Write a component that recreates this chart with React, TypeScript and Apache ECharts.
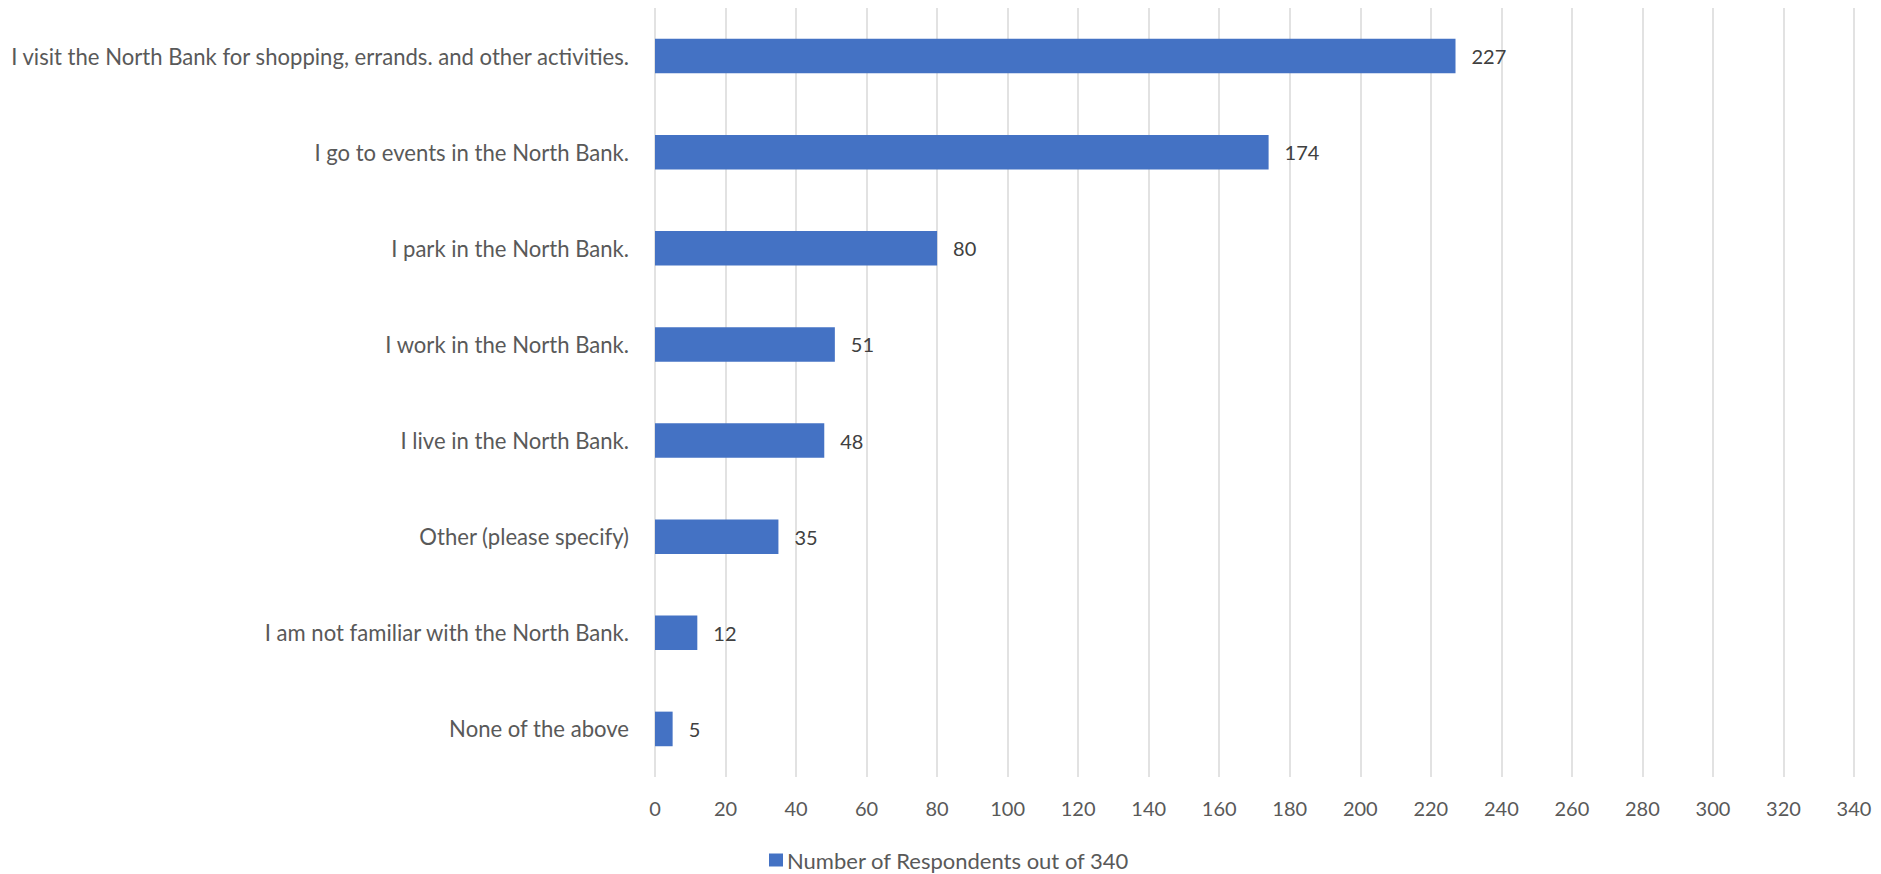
import React, { useEffect, useRef } from "react";
import * as echarts from "echarts";

const categories = [
  "None of the above",
  "I am not familiar with the North Bank.",
  "Other (please specify)",
  "I live in the North Bank.",
  "I work in the North Bank.",
  "I park in the North Bank.",
  "I go to events in the North Bank.",
  "I visit the North Bank for shopping, errands. and other activities.",
];
const values = [5, 12, 35, 48, 51, 80, 174, 227];
const seriesName = "Number of Respondents out of 340";
const xMin = 0;
const xMax = 340;
const xInterval = 20;

const FONT = "Lato";

export default function App() {
  const ref = useRef<HTMLDivElement>(null);
  useEffect(() => {
    if (!ref.current) return;
    const chart = echarts.init(ref.current, undefined, { renderer: "svg" });
    chart.setOption({
      animation: false,
      textStyle: { fontFamily: FONT },
      grid: {
        left: 655,
        right: 27,
        top: 8,
        bottom: 97,
        containLabel: false,
        outerBoundsMode: "none",
      },
      legend: {
        data: [seriesName],
        top: 849,
        left: 769,
        padding: 0,
        itemWidth: 14,
        itemHeight: 13,
        itemGap: 5,
        icon: "rect",
        textStyle: {
          fontFamily: FONT,
          fontSize: 22,
          lineHeight: 22,
          color: "#595959",
          padding: [0, 0, 0, -1],
        },
      },
      xAxis: {
        type: "value",
        min: xMin,
        max: xMax,
        interval: xInterval,
        axisLine: { show: false },
        axisTick: { show: false },
        splitLine: { show: true, lineStyle: { color: "#D9D9D9", width: 1.5 } },
        axisLabel: { color: "#595959", fontSize: 20, margin: 21, fontFamily: FONT },
      },
      yAxis: {
        type: "category",
        data: categories,
        axisLine: { show: false },
        axisTick: { show: false },
        splitLine: { show: false },
        axisLabel: { color: "#595959", fontSize: 22.1, margin: 26, fontFamily: FONT },
      },
      series: [
        {
          name: seriesName,
          type: "bar",
          data: values,
          barCategoryGap: "64%",
          itemStyle: { color: "#4472C4" },
          label: {
            show: true,
            position: "right",
            distance: 16,
            color: "#404040",
            fontSize: 20,
            fontFamily: FONT,
          },
        },
      ],
    });
    return () => chart.dispose();
  }, []);
  return (
    <div
      ref={ref}
      style={{ position: "fixed", left: 0, top: 0, width: 1881, height: 874, background: "#ffffff" }}
    />
  );
}
